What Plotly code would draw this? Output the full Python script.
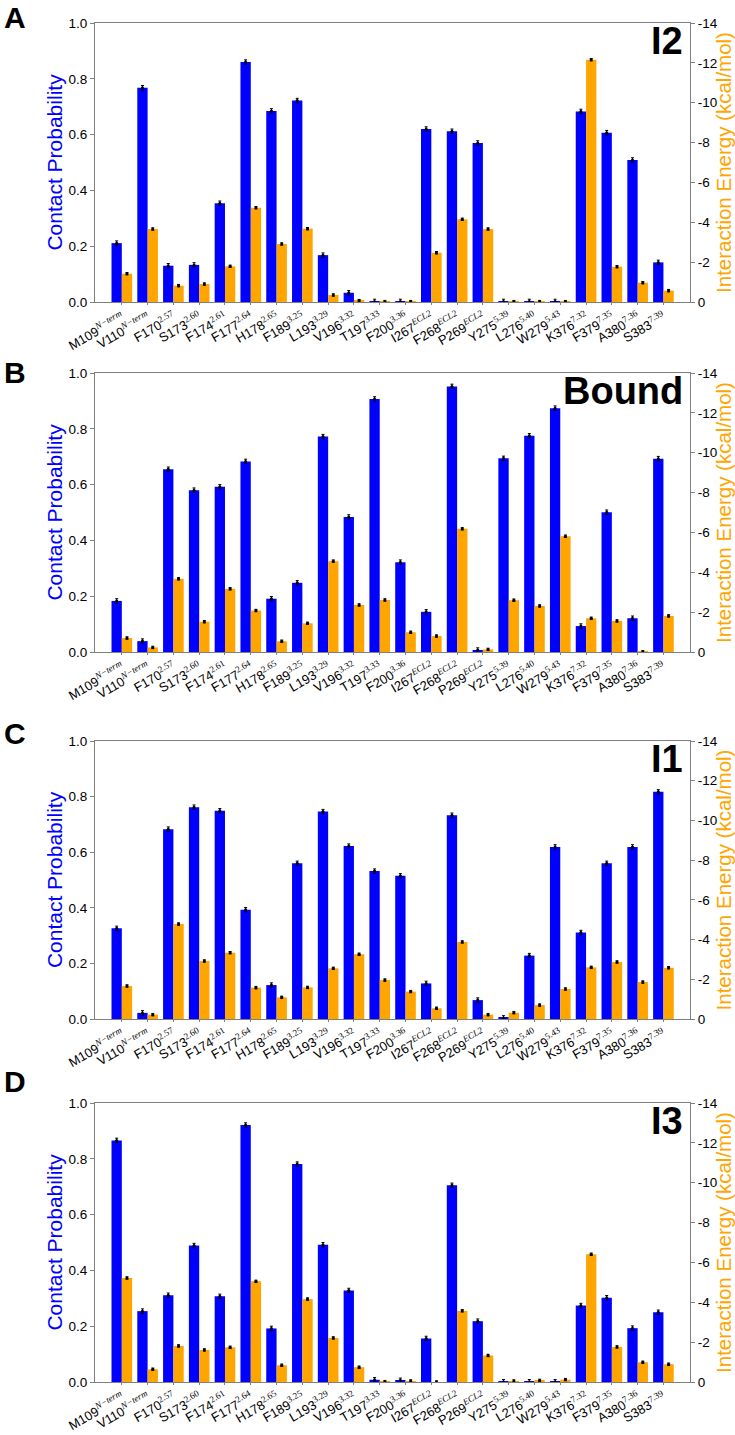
import plotly.graph_objects as go

residues = ["M109", "V110", "F170", "S173", "F174", "F177", "H178", "F189", "L193", "V196", "T197",
            "F200", "I267", "F268", "P269", "Y275", "L276", "W279", "K376", "F379", "A380", "S383"]
sup_labels = ["N\u2212term", "N\u2212term", "2.57", "2.60", "2.61", "2.64", "2.65", "3.25", "3.29", "3.32", "3.33",
              "3.36", "ECL2", "ECL2", "ECL2", "5.39", "5.40", "5.43", "7.32", "7.35", "7.36", "7.39"]

panel_letters = ["A", "B", "C", "D"]
state_names = ["I2", "Bound", "I1", "I3"]

prob_I2 = [0.211, 0.768, 0.130, 0.133, 0.354, 0.860, 0.685, 0.722, 0.168, 0.033, 0.002,
           0.002, 0.620, 0.612, 0.570, 0.002, 0.002, 0.002, 0.683, 0.607, 0.509, 0.142]
energy_I2 = [-1.42, -3.66, -0.82, -0.90, -1.79, -4.73, -2.91, -3.68, -0.35, -0.07, -0.02,
             -0.02, -2.47, -4.15, -3.66, -0.02, -0.02, -0.02, -12.16, -1.77, -0.97, -0.57]

prob_Bound = [0.183, 0.039, 0.655, 0.580, 0.592, 0.683, 0.191, 0.248, 0.772, 0.484, 0.907,
              0.322, 0.144, 0.952, 0.007, 0.694, 0.775, 0.874, 0.093, 0.501, 0.121, 0.693]
energy_Bound = [-0.70, -0.23, -3.67, -1.52, -3.17, -2.08, -0.54, -1.44, -4.56, -2.36, -2.61,
                -0.99, -0.80, -6.18, -0.13, -2.60, -2.31, -5.81, -1.69, -1.56, -0.01, -1.81]

prob_I1 = [0.326, 0.022, 0.683, 0.762, 0.749, 0.393, 0.122, 0.560, 0.746, 0.622, 0.532,
           0.515, 0.128, 0.733, 0.068, 0.004, 0.228, 0.619, 0.311, 0.560, 0.619, 0.817]
energy_I1 = [-1.66, -0.22, -4.78, -2.92, -3.34, -1.58, -1.09, -1.59, -2.55, -3.26, -1.96,
             -1.38, -0.54, -3.88, -0.22, -0.32, -0.70, -1.51, -2.60, -2.87, -1.86, -2.58]

prob_I3 = [0.866, 0.254, 0.311, 0.489, 0.307, 0.921, 0.192, 0.781, 0.492, 0.328, 0.008,
           0.006, 0.156, 0.705, 0.218, 0.001, 0.001, 0.001, 0.274, 0.302, 0.193, 0.250]
energy_I3 = [-5.22, -0.64, -1.81, -1.61, -1.74, -5.05, -0.84, -4.16, -2.21, -0.74, -0.02,
             -0.05, 0.0, -3.57, -1.33, -0.05, -0.08, -0.12, -6.41, -1.76, -0.99, -0.89]

probs = [prob_I2, prob_Bound, prob_I1, prob_I3]
energies = [energy_I2, energy_Bound, energy_I1, energy_I3]

prob_ticks = [0.0, 0.2, 0.4, 0.6, 0.8, 1.0]
energy_ticks = [0, -2, -4, -6, -8, -10, -12, -14]

BLUE = "#0000FF"
ORANGE = "#FFA500"
SPINE = "#808080"
FONT = "Liberation Sans"

W, H = 735, 1435
plot_left, plot_right = 95, 690
panel_px = [(23, 302), (373, 652), (741, 1019), (1103, 1382)]

xs = list(range(len(residues)))


def ticktext_for():
    out = []
    for r, s in zip(residues, sup_labels):
        if s[0].isdigit():
            inner = s
        else:
            inner = "<i>" + s + "</i>"
        out.append(f"{r}<sup><span style='font-family:Liberation Serif'>{inner}</span></sup>")
    return out


tick_text = ticktext_for()

fig = go.Figure()
layout = dict(
    width=W, height=H,
    margin=dict(l=0, r=0, t=0, b=0, autoexpand=False),
    paper_bgcolor="white", plot_bgcolor="white",
    barmode="overlay", showlegend=False,
    font=dict(family=FONT, size=14, color="black"),
    annotations=[],
)

for k in range(4):
    xname = "x" if k == 0 else f"x{k + 1}"
    xkey = "xaxis" if k == 0 else f"xaxis{k + 1}"
    yl = f"y{2 * k + 1}" if k > 0 else "y"
    yr = f"y{2 * k + 2}"
    ylkey = "yaxis" if k == 0 else f"yaxis{2 * k + 1}"
    yrkey = f"yaxis{2 * k + 2}"
    top, bot = panel_px[k]
    dom_y = [1 - bot / H, 1 - top / H]
    dom_x = [plot_left / W, plot_right / W]

    fig.add_trace(go.Bar(
        x=xs, y=probs[k], xaxis=xname, yaxis=yl,
        offset=-0.4, width=0.4, marker=dict(color=BLUE, line=dict(width=0)),
        error_y=dict(type="constant", value=0.008, color="black", thickness=1, width=1.5),
    ))
    fig.add_trace(go.Bar(
        x=xs, y=energies[k], xaxis=xname, yaxis=yr,
        offset=0.0, width=0.4, marker=dict(color=ORANGE, line=dict(width=0)),
        error_y=dict(type="constant", value=0.06, color="black", thickness=1, width=1.5),
    ))
    fig.add_trace(go.Scatter(
        x=[i - 0.2 for i in xs], y=probs[k], xaxis=xname, yaxis=yl, mode="markers",
        marker=dict(color="black", size=3), hoverinfo="skip",
    ))
    fig.add_trace(go.Scatter(
        x=[i + 0.2 for i in xs], y=energies[k], xaxis=xname, yaxis=yr, mode="markers",
        marker=dict(color="black", size=3), hoverinfo="skip",
    ))

    layout[xkey] = dict(
        domain=dom_x, anchor=yl, range=[-1.04, 22.03], automargin=False,
        tickmode="array", tickvals=xs, ticktext=tick_text, tickangle=-30,
        ticks="outside", ticklen=2, tickcolor=SPINE,
        showline=True, linecolor=SPINE, linewidth=1, mirror=True,
        showgrid=False, zeroline=False,
        tickfont=dict(family=FONT, size=13, color="black"),
    )
    layout[ylkey] = dict(
        domain=dom_y, anchor=xname, range=[0, 1.0], automargin=False,
        tickmode="array", tickvals=prob_ticks, ticktext=[f"{v:.1f}" for v in prob_ticks],
        ticks="outside", ticklen=4, tickcolor=SPINE,
        showline=True, linecolor=SPINE, linewidth=1,
        showgrid=False, zeroline=False,
        tickfont=dict(family=FONT, size=13.5, color="black"),
        title=dict(text="Contact Probability", font=dict(family=FONT, size=21, color=BLUE), standoff=0),
    )
    layout[yrkey] = dict(
        domain=dom_y, anchor=xname, overlaying=yl, side="right", range=[0, -14], automargin=False,
        tickmode="array", tickvals=energy_ticks,
        ticktext=["0" if v == 0 else f"-{abs(v)}" for v in energy_ticks],
        ticks="outside", ticklen=4, tickcolor=SPINE,
        showline=True, linecolor=SPINE, linewidth=1,
        showgrid=False, zeroline=False,
        tickfont=dict(family=FONT, size=13.5, color="black"),
        title=dict(text="Interaction Energy (kcal/mol)", font=dict(family=FONT, size=20.5, color=ORANGE), standoff=2),
    )

    letter_cy = [16.5, 371.5, 732, 1080][k]
    layout["annotations"].append(dict(
        text=f"<b>{panel_letters[k]}</b>", xref="paper", yref="paper",
        x=2 / W, y=1 - (letter_cy + 1) / H, xanchor="left", yanchor="middle",
        showarrow=False, font=dict(family=FONT, size=30, color="black"),
    ))
    layout["annotations"].append(dict(
        text=f"<b>{state_names[k]}</b>", xref="paper", yref="paper",
        x=685 / W, y=1 - (top + 18) / H, xanchor="right", yanchor="middle",
        showarrow=False, font=dict(family=FONT, size=38, color="black"),
    ))

fig.update_layout(**layout)
fig.write_html("out.html")
